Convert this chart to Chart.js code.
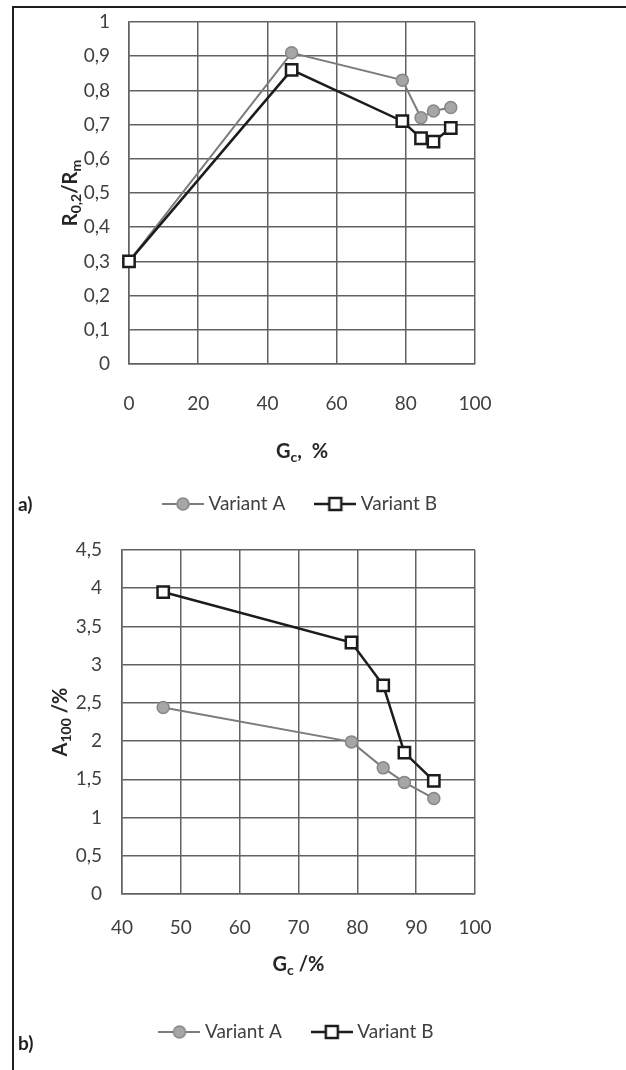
<!DOCTYPE html>
<html>
<head>
<meta charset="utf-8">
<script src="https://cdn.jsdelivr.net/npm/chart.js@4.4.1/dist/chart.umd.min.js"></script>
<style>
  body { margin: 0; background: #fff; }
  #page { position: relative; width: 626px; height: 1070px; overflow: hidden; }
  #frame { position: absolute; left: 12px; top: 6px; right: -4px; bottom: -4px;
           border-top: 2px solid #1e1e1e; border-left: 2px solid #1e1e1e; }
  .panel { position: absolute; left: 18px; font: bold 19px Lato, sans-serif; color: #1e1e1e; line-height: 20px; }
  canvas { position: absolute; left: 0; }
</style>
</head>
<body>
<div id="page">
  <div id="frame"></div>
  <canvas id="chartA" width="626" height="530" style="top:0"></canvas>
  <canvas id="chartB" width="626" height="540" style="top:530px"></canvas>
  <div class="panel" style="top:494px">a)</div>
  <div class="panel" style="top:1033px">b)</div>
</div>
<script>
// a) yield ratio vs Gc
const gcA = [0, 47, 79, 84.4, 88, 93];
const ratioVarA = [0.3, 0.91, 0.83, 0.72, 0.74, 0.75];
const ratioVarB = [0.3, 0.86, 0.71, 0.66, 0.65, 0.69];
const ratioTicks = { min: 0, max: 1, step: 0.1 };
const gcTicksA = { min: 0, max: 100, step: 20 };

// b) elongation vs Gc
const gcB = [47, 79, 84.4, 88, 93];
const elongVarA = [2.44, 1.99, 1.65, 1.46, 1.25];
const elongVarB = [3.95, 3.29, 2.73, 1.85, 1.48];
const elongTicks = { min: 0, max: 4.5, step: 0.5 };
const gcTicksB = { min: 40, max: 100, step: 10 };

const seriesNames = ['Variant A', 'Variant B'];

const family = 'Lato, "Open Sans", sans-serif';
const lineA = '#7c7c7c', fillA = '#a6a6a6', edgeA = '#878787';
const lineB = '#1c1c1c';
const gridColor = '#626262';
const tickColor = '#404040';

function pts(xs, ys) {
  return xs.map((x, i) => ({ x: x, y: ys[i] }));
}

function commaTick(v) {
  return String(Math.round(v * 10) / 10).replace('.', ',');
}

function legendIcon(kind) {
  const c = document.createElement('canvas');
  c.width = 42; c.height = 18;
  const g = c.getContext('2d');
  g.lineWidth = kind === 'A' ? 2 : 2.5;
  g.strokeStyle = kind === 'A' ? lineA : lineB;
  g.beginPath(); g.moveTo(0, 9); g.lineTo(42, 9); g.stroke();
  if (kind === 'A') {
    g.beginPath(); g.arc(21, 9, 6, 0, Math.PI * 2);
    g.fillStyle = fillA; g.fill();
    g.lineWidth = 1.5; g.strokeStyle = edgeA; g.stroke();
  } else {
    g.fillStyle = '#fff'; g.fillRect(15, 3, 12, 12);
    g.lineWidth = 2.5; g.strokeRect(15, 3, 12, 12);
  }
  return c;
}
const icons = [legendIcon('A'), legendIcon('B')];

function drawRich(ctx, parts, size) {
  const fonts = parts.map(p => 'bold ' + (p.sub ? Math.round(size * 0.68) : size) + 'px ' + family);
  let w = 0;
  parts.forEach((p, i) => { ctx.font = fonts[i]; w += ctx.measureText(p.t).width; });
  let x = -w / 2;
  parts.forEach((p, i) => {
    ctx.font = fonts[i];
    ctx.fillText(p.t, x, p.sub ? size * 0.28 : 0);
    x += ctx.measureText(p.t).width;
  });
}

// axis titles with subscripts
const richTitles = {
  id: 'richTitles',
  afterDraw(chart, args, opts) {
    const ctx = chart.ctx, area = chart.chartArea;
    ctx.save();
    ctx.fillStyle = '#262626';
    ctx.textBaseline = 'middle';
    ctx.textAlign = 'left';
    ctx.save();
    ctx.translate((area.left + area.right) / 2, area.bottom + opts.x.dy);
    drawRich(ctx, opts.x.parts, 20);
    ctx.restore();
    ctx.save();
    ctx.translate(area.left - opts.y.dx, (area.top + area.bottom) / 2);
    ctx.rotate(-Math.PI / 2);
    drawRich(ctx, opts.y.parts, 20);
    ctx.restore();
    ctx.restore();
  }
};

function makeChart(id, xs, ysA, ysB, xt, yt, cfg) {
  return new Chart(document.getElementById(id), {
    type: 'line',
    data: {
      datasets: [{
        label: seriesNames[0],
        data: pts(xs, ysA),
        borderColor: lineA,
        borderWidth: 2,
        pointStyle: 'circle',
        pointRadius: 6,
        pointBackgroundColor: fillA,
        pointBorderColor: edgeA,
        pointBorderWidth: 1.5,
        order: 1,
        clip: false
      }, {
        label: seriesNames[1],
        data: pts(xs, ysB),
        borderColor: lineB,
        borderWidth: 2.5,
        pointStyle: 'rect',
        pointRadius: 8,
        pointBackgroundColor: '#fff',
        pointBorderColor: lineB,
        pointBorderWidth: 2.5,
        order: 0,
        clip: false
      }]
    },
    options: {
      responsive: false,
      animation: false,
      events: [],
      layout: { padding: { left: 0, right: 626 - 475, top: cfg.top, bottom: cfg.bottom } },
      scales: {
        x: {
          type: 'linear',
          min: xt.min, max: xt.max,
          afterFit: s => { s.height = cfg.xHeight; },
          ticks: { stepSize: xt.step, padding: cfg.xPad, color: tickColor, font: { family: family, size: 19 } },
          grid: { color: gridColor, lineWidth: 1.5, drawTicks: false },
          border: { color: gridColor, width: 1.5 }
        },
        y: {
          min: yt.min, max: yt.max,
          afterFit: s => { s.width = cfg.left; },
          // gap to the labels comes from an invisible tick mark, so the top of the plot is not pushed down
          ticks: { stepSize: yt.step, padding: 0, color: tickColor, font: { family: family, size: 19 }, callback: v => commaTick(v) },
          grid: { color: gridColor, lineWidth: 1.5, drawTicks: true, tickLength: cfg.yPad, tickColor: 'rgba(0,0,0,0)' },
          border: { color: gridColor, width: 1.5 }
        }
      },
      plugins: {
        tooltip: { enabled: false },
        legend: {
          position: 'bottom',
          fullSize: false,
          labels: {
            usePointStyle: true,
            pointStyleWidth: 32,
            padding: 34,
            color: tickColor,
            font: { family: family, size: 19 },
            generateLabels: chart => chart.data.datasets.map((ds, i) => ({
              text: ds.label,
              pointStyle: icons[i],
              fillStyle: 'transparent',
              strokeStyle: 'transparent',
              lineWidth: 0,
              hidden: false,
              datasetIndex: i,
              fontColor: tickColor
            }))
          }
        },
        richTitles: cfg.titles
      }
    },
    plugins: [richTitles]
  });
}

makeChart('chartA', gcA, ratioVarA, ratioVarB, gcTicksA, ratioTicks, {
  top: 22, bottom: 6.5, left: 129, xHeight: 96.5, xPad: 28, yPad: 19,
  titles: {
    x: { parts: [{ t: 'G' }, { t: 'c', sub: true }, { t: ',  %' }], dy: 88 },
    y: { parts: [{ t: 'R' }, { t: '0,2', sub: true }, { t: '/R' }, { t: 'm', sub: true }], dx: 58 }
  }
});

makeChart('chartB', gcB, elongVarA, elongVarB, gcTicksB, elongTicks, {
  top: 20, bottom: 18.5, left: 122, xHeight: 94.5, xPad: 22, yPad: 20,
  titles: {
    x: { parts: [{ t: 'G' }, { t: 'c', sub: true }, { t: ' /%' }], dy: 71 },
    y: { parts: [{ t: 'A' }, { t: '100', sub: true }, { t: ' /%' }], dx: 61 }
  }
});
</script>
</body>
</html>
